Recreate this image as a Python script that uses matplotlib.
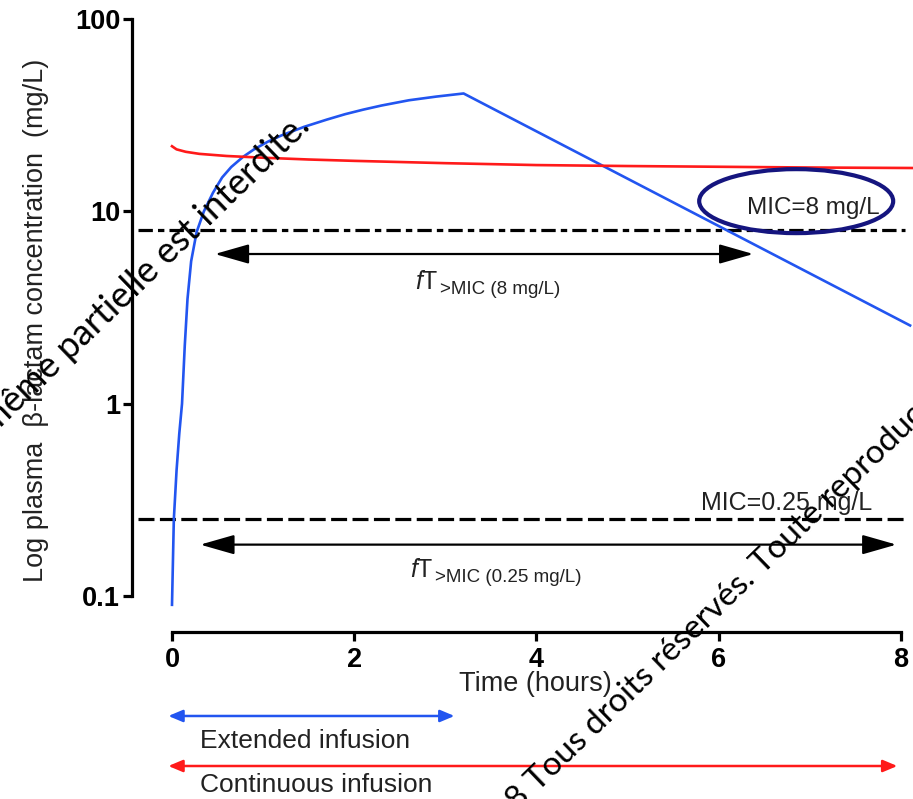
import matplotlib
matplotlib.use('Agg')
import matplotlib.pyplot as plt
from matplotlib.patches import Ellipse
from matplotlib.transforms import ScaledTranslation

plt.rcParams['font.family'] = ['Liberation Sans', 'DejaVu Sans']
plt.rcParams['mathtext.fontset'] = 'custom'
plt.rcParams['mathtext.rm'] = 'Liberation Sans'
plt.rcParams['mathtext.it'] = 'Liberation Sans:italic'

# extended infusion (blue) and continuous infusion (red) profiles
blue_t = [0, 0.02, 0.05, 0.08, 0.11, 0.14, 0.17, 0.21, 0.27, 0.35, 0.45, 0.55,
          0.65, 0.78, 0.9, 1.05, 1.2, 1.45, 1.7, 1.9, 2.1, 2.3, 2.6, 2.9, 3.2, 8.1]
blue_c = [0.09, 0.25, 0.45, 0.7, 1.0, 2.0, 3.5, 5.5, 7.8, 10, 12.5, 15.0,
          17.0, 19.2, 21, 23, 24.8, 27.5, 30, 32, 33.8, 35.5, 37.8, 39.5, 41, 2.55]
red_t = [0, 0.05, 0.15, 0.3, 0.6, 1.0, 1.5, 2.0, 3.0, 4.0, 5.0, 6.0, 7.0, 8.13]
red_c = [21.8, 21.0, 20.4, 19.9, 19.4, 19.0, 18.6, 18.3, 17.8, 17.4, 17.2,
         17.05, 16.9, 16.8]

mic_high = 8
mic_low = 0.25
ft_high = (0.47, 6.38, 6.0)    # start, end, level
ft_low = (0.31, 7.95, 0.185)
extended_span = (-0.04, 3.1)
continuous_span = (-0.04, 7.96)

yticks = [0.1, 1, 10, 100]
ytick_labels = ['0.1', '1', '10', '100']
xticks = [0, 2, 4, 6, 8]

txt = '#222222'

fig = plt.figure(figsize=(9.13, 7.99), dpi=100)
ax = fig.add_axes([132 / 913, 167 / 799, 781 / 913, 613 / 799])
ax.set_yscale('log')
ax.set_xlim(-0.439, 8.132)
ax.set_ylim(0.065, 100)

for s in ['top', 'right']:
    ax.spines[s].set_visible(False)
ax.spines['left'].set_bounds(0.1, 100)
ax.spines['bottom'].set_bounds(0, 8)
for s in ['left', 'bottom']:
    ax.spines[s].set_linewidth(2.3)

ax.set_yticks(yticks)
ax.set_yticklabels(ytick_labels)
ax.yaxis.set_minor_locator(matplotlib.ticker.NullLocator())
ax.set_xticks(xticks)
ax.tick_params(width=2.3, length=6.5, labelsize=19.5)
ax.tick_params(axis='x', pad=4)
ax.tick_params(axis='y', pad=2)
for lab in ax.get_xticklabels() + ax.get_yticklabels():
    lab.set_fontweight('bold')

ax.set_ylabel('Log plasma  β-lactam concentration  (mg/L)', fontsize=19.5, color=txt)
ax.yaxis.set_label_coords(-0.106, 0.509)
ax.set_xlabel('Time (hours)', fontsize=19.5, color=txt)
ax.xaxis.set_label_coords(0.516, -0.064)

ax.plot(blue_t, blue_c, color='#2255f0', lw=1.9, clip_on=False, zorder=3)
ax.plot(red_t, red_c, color='#ff1a1a', lw=1.9, clip_on=False, zorder=3)

ax.plot([-0.37, 8.04], [mic_high, mic_high], color='black', lw=2.3,
        linestyle=(0, (4.5, 1.6, 2, 1.6)), zorder=2)
ax.plot([-0.37, 8.04], [mic_low, mic_low], color='black', lw=2.3,
        linestyle=(0, (5, 1.7)), zorder=2)

big_head = dict(arrowstyle='<|-|>,head_length=1.05,head_width=0.3',
                mutation_scale=20, color='black', lw=1.6, shrinkA=0, shrinkB=0)
ax.annotate('', xy=(ft_high[1], ft_high[2]), xytext=(ft_high[0], ft_high[2]),
            arrowprops=big_head)
ax.annotate('', xy=(ft_low[1], ft_low[2]), xytext=(ft_low[0], ft_low[2]),
            arrowprops=big_head)

for x0, y0, sub in [(2.67, 4.3, '>MIC (8 mg/L)'), (2.61, 0.137, '>MIC (0.25 mg/L)')]:
    main = ax.text(x0, y0, r'$\mathit{f}$T', fontsize=18, color=txt,
                   ha='left', va='center')
    ax.annotate(sub, xy=(1, 0), xycoords=main, xytext=(1, 0),
                textcoords='offset points', fontsize=13.5, color=txt,
                ha='left', va='baseline')

ax.text(7.77, 10.4, 'MIC=8 mg/L', fontsize=17.5, color=txt, ha='right', va='center')
ax.text(7.69, 0.306, 'MIC=0.25 mg/L', fontsize=18, color=txt, ha='right', va='center')

ell = Ellipse((0, 0), 1.94, 0.64, fill=False, edgecolor='#15157f', lw=3,
              transform=fig.dpi_scale_trans + ScaledTranslation(6.85, 11.3, ax.transData),
              zorder=5)
ax.add_artist(ell)

# infusion bars under the x axis
xt = ax.get_xaxis_transform()
small_head = dict(arrowstyle='<|-|>,head_length=1.0,head_width=0.42',
                  mutation_scale=8.6, lw=1.8, shrinkA=0, shrinkB=0)
ax.annotate('', xy=(extended_span[1], -0.137), xytext=(extended_span[0], -0.137),
            xycoords=xt, textcoords=xt, annotation_clip=False,
            arrowprops=dict(small_head, color='#2255f0'))
ax.annotate('', xy=(continuous_span[1], -0.2186), xytext=(continuous_span[0], -0.2186),
            xycoords=xt, textcoords=xt, annotation_clip=False,
            arrowprops=dict(small_head, color='#ff1a1a'))
ax.text(0.31, -0.178, 'Extended infusion', transform=xt, fontsize=19,
        color=txt, ha='left', va='center', clip_on=False)
ax.text(0.31, -0.25, 'Continuous infusion', transform=xt, fontsize=19,
        color=txt, ha='left', va='center', clip_on=False)

# watermark
wm = dict(family=['Lato', 'DejaVu Sans'], fontweight='normal', color='black',
          rotation=44, rotation_mode='anchor', va='baseline', zorder=10)
fig.text(312 / 913, 1 - 128 / 799, 'même partielle est interdite.', ha='right',
         fontsize=26, **wm)
fig.text(518 / 913, 1 - 812 / 799, '8 Tous droits réservés. Toute reproduction',
         ha='left', fontsize=24, **wm)

fig.savefig('out.png', dpi=100)
